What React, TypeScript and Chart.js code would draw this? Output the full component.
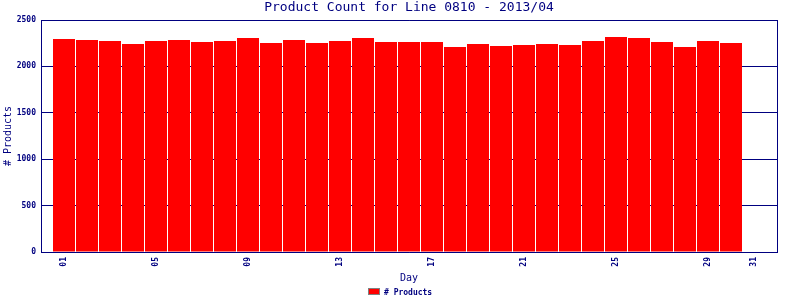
import React, { useEffect, useRef } from "react";
import { Chart, registerables } from "chart.js";

Chart.register(...registerables);

const TITLE = "Product Count for Line 0810 - 2013/04";
const X_TITLE = "Day";
const Y_TITLE = "# Products";
const SERIES_LABEL = "# Products";

const days = [1, 2, 3, 4, 5, 6, 7, 8, 9, 10, 11, 12, 13, 14, 15, 16, 17, 18, 19, 20, 21, 22, 23, 24, 25, 26, 27, 28, 29, 30];
const products = [2295, 2284, 2274, 2241, 2274, 2284, 2263, 2274, 2306, 2252, 2284, 2252, 2274, 2306, 2263, 2263, 2263, 2209, 2241, 2220, 2231, 2241, 2231, 2274, 2317, 2306, 2263, 2209, 2274, 2252];
const xTickValues = [1, 5, 9, 13, 17, 21, 25, 29, 31];
const xMin = 0;
const xMax = 32;
const yMin = 0;
const yMax = 2500;
const yStep = 500;

const NAVY = "#000080";
const RED = "#ff0000";
const MONO = "'DejaVu Sans Mono', 'Liberation Mono', monospace";

const decorPlugin = {
  id: "decor",
  afterDraw(chart: any) {
    const { ctx, chartArea: a } = chart;
    const cx = (a.left + a.right) / 2;
    ctx.save();
    // plot frame (top and right)
    ctx.strokeStyle = NAVY;
    ctx.lineWidth = 1;
    ctx.beginPath();
    ctx.moveTo(Math.round(a.left), Math.round(a.top) + 0.5);
    ctx.lineTo(Math.round(a.right) + 1, Math.round(a.top) + 0.5);
    ctx.moveTo(Math.round(a.right) + 0.5, Math.round(a.top));
    ctx.lineTo(Math.round(a.right) + 0.5, Math.round(a.bottom) + 1);
    ctx.stroke();

    // title
    ctx.fillStyle = NAVY;
    ctx.font = `13px ${MONO}`;
    ctx.textAlign = "center";
    ctx.textBaseline = "middle";
    ctx.fillText(TITLE, cx, 8);

    // x axis title
    ctx.font = `10px ${MONO}`;
    ctx.fillText(X_TITLE, cx, 278);

    // y axis title
    ctx.save();
    ctx.translate(8, (a.top + a.bottom) / 2);
    ctx.rotate(-Math.PI / 2);
    ctx.fillText(Y_TITLE, 0, 0);
    ctx.restore();

    // legend
    const w = chart.width;
    ctx.font = `bold 8px ${MONO}`;
    const tw = ctx.measureText(SERIES_LABEL).width;
    const total = 12 + 4 + tw;
    const lx = Math.round(w / 2 - total / 2);
    ctx.fillStyle = RED;
    ctx.fillRect(lx, 288, 12, 7);
    ctx.strokeStyle = "#808080";
    ctx.strokeRect(lx + 0.5, 288.5, 11, 6);
    ctx.fillStyle = NAVY;
    ctx.textAlign = "left";
    ctx.fillText(SERIES_LABEL, lx + 16, 293);
    ctx.restore();
  },
};

export default function App() {
  const ref = useRef<HTMLCanvasElement | null>(null);

  useEffect(() => {
    if (!ref.current) return;
    const chart = new Chart(ref.current, {
      type: "bar",
      data: {
        datasets: [
          {
            label: SERIES_LABEL,
            data: days.map((d, i) => ({ x: d, y: products[i] })),
            backgroundColor: RED,
            borderWidth: 0,
            inflateAmount: 0,
            barThickness: 22,
          } as any,
        ],
      },
      options: {
        animation: false,
        responsive: false,
        devicePixelRatio: 1,
        layout: { padding: { top: 20, right: 23, left: 0, bottom: 0 } },
        plugins: {
          legend: { display: false },
          title: { display: false },
          tooltip: { enabled: false },
        },
        scales: {
          x: {
            type: "linear",
            min: xMin,
            max: xMax,
            offset: false,
            grid: { display: false, drawTicks: false, offset: false },
            border: { display: true, color: NAVY, width: 1 },
            afterFit(scale: any) {
              scale.height = 48;
            },
            afterBuildTicks(scale: any) {
              scale.ticks = xTickValues.map((v) => ({ value: v }));
            },
            ticks: {
              autoSkip: false,
              minRotation: 90,
              maxRotation: 90,
              padding: 5,
              color: NAVY,
              font: { family: MONO, size: 8, weight: "bold" },
              callback: (v: any) => String(v).padStart(2, "0"),
            },
          },
          y: {
            type: "linear",
            min: yMin,
            max: yMax,
            grid: { color: NAVY, drawTicks: false, lineWidth: 1 },
            border: { display: true, color: NAVY, width: 1 },
            afterFit(scale: any) {
              scale.width = 41;
            },
            ticks: {
              stepSize: yStep,
              padding: 5,
              color: NAVY,
              font: { family: MONO, size: 8, weight: "bold" },
              callback: (v: any) => String(v),
            },
          },
        },
      } as any,
      plugins: [decorPlugin],
    });
    return () => chart.destroy();
  }, []);

  return (
    <div style={{ position: "fixed", left: 0, top: 0, width: 800, height: 300, background: "#fff" }}>
      <canvas ref={ref} width={800} height={300} style={{ width: 800, height: 300 }} />
    </div>
  );
}
